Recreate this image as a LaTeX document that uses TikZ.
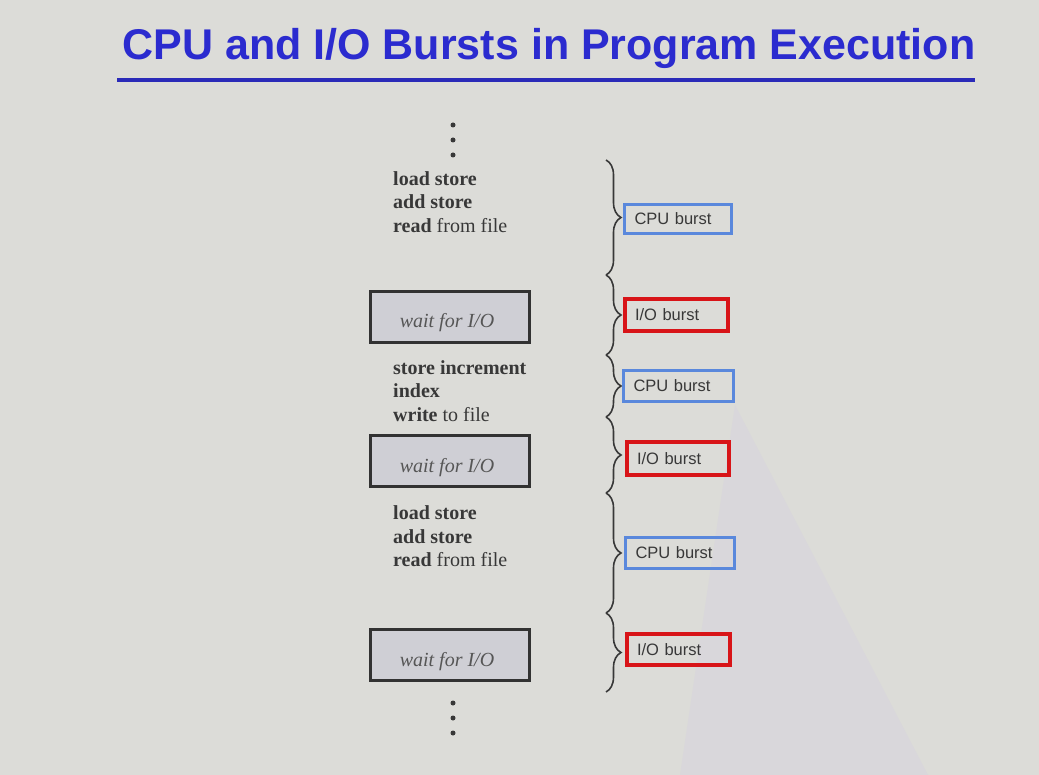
\documentclass[tikz,border=0pt]{standalone}
\usepackage{fontspec}
\setmainfont{Liberation Serif}
\setsansfont{Liberation Sans}
\usetikzlibrary{decorations.pathreplacing}
\definecolor{bg}{HTML}{DCDCD8}
\definecolor{tri}{HTML}{D9D7DB}
\definecolor{titleblue}{HTML}{2B2BCF}
\definecolor{lineblue}{HTML}{2A2AB8}
\definecolor{ink}{HTML}{383838}
\definecolor{waitfill}{HTML}{CFCFD5}
\definecolor{cpublue}{HTML}{5A88DC}
\definecolor{iored}{HTML}{D81418}
\tikzset{
  code/.style={anchor=base west, inner sep=0, text=ink, font=\fontsize{20}{23}\selectfont},
  waitbox/.style={draw=ink!90!black, line width=2.5pt, fill=waitfill, minimum width=159, minimum height=51, inner sep=0},
  waittext/.style={anchor=base, inner sep=0, text=ink!85, font=\itshape\fontsize{20}{23}\selectfont},
  burst/.style={line width=3pt, inner xsep=10, inner ysep=0, align=left, text=ink, font=\sffamily\fontsize{16.5}{18}\selectfont},
  cpubox/.style={burst, draw=cpublue},
  iobox/.style={burst, draw=iored, line width=3.5pt},
  bracestyle/.style={draw=ink, line width=1.6pt, decorate, decoration={brace, amplitude=15, aspect=0.5}},
  dot/.style={circle, fill=ink, inner sep=0, minimum size=5}
}
\begin{document}
\begin{tikzpicture}[x=1pt,y=-1pt]
\useasboundingbox (0,0) rectangle (1039,775);
\fill[bg] (0,0) rectangle (1039,775);
\fill[tri] (735,405) -- (928,775) -- (680,775) -- cycle;

% title
\node[anchor=base, inner sep=0, text=titleblue, font=\sffamily\bfseries\fontsize{43}{50}\selectfont] (title) at (549,60) {CPU and I/O Bursts in Program Execution};
\draw[lineblue, line width=4.5pt] (117,80) -- (975,80);

% dots
\node[dot] (d1) at (453,125) {};
\node[dot] (d2) at (453,140) {};
\node[dot] (d3) at (453,155) {};
\node[dot] (d4) at (453,703) {};
\node[dot] (d5) at (453,718) {};
\node[dot] (d6) at (453,733) {};

% block 1
\node[code] (a1) at (393,186) {\textbf{load store}};
\node[code] (a2) at (393,209) {\textbf{add store}};
\node[code] (a3) at (393,233) {\textbf{read} from file};
% wait 1
\node[waitbox] (w1) at (450,317) {};
\node[waittext] (w1t) at (447,328) {wait for I/O};
% block 2
\node[code] (b1) at (393,375) {\textbf{store increment}};
\node[code] (b2) at (393,398) {\textbf{index}};
\node[code] (b3) at (393,422) {\textbf{write} to file};
% wait 2
\node[waitbox] (w2) at (450,461) {};
\node[waittext] (w2t) at (447,472) {wait for I/O};
% block 3
\node[code] (c1) at (393,519) {\textbf{load store}};
\node[code] (c2) at (393,543) {\textbf{add store}};
\node[code] (c3) at (393,566) {\textbf{read} from file};
% wait 3
\node[waitbox] (w3) at (450,655) {};
\node[waittext] (w3t) at (447,666) {wait for I/O};

% braces
\coordinate (k0) at (606,160);
\coordinate (k1) at (606,275);
\coordinate (k2) at (606,355);
\coordinate (k3) at (606,417);
\coordinate (k4) at (606,493);
\coordinate (k5) at (606,613);
\coordinate (k6) at (606,692);
\draw[bracestyle] (k0) -- (k1);
\draw[bracestyle] (k1) -- (k2);
\draw[bracestyle] (k2) -- (k3);
\draw[bracestyle] (k3) -- (k4);
\draw[bracestyle] (k4) -- (k5);
\draw[bracestyle] (k5) -- (k6);

% bursts
\node[cpubox, text width=87, minimum height=29] (cpu1) at (678,219) {CPU burst};
\node[iobox, text width=83, minimum height=32] (io1) at (676.5,315) {I/O burst};
\node[cpubox, text width=90, minimum height=31] (cpu2) at (678.5,386) {CPU burst};
\node[iobox, text width=82, minimum height=33] (io2) at (678,458.5) {I/O burst};
\node[cpubox, text width=89, minimum height=31] (cpu3) at (680,553) {CPU burst};
\node[iobox, text width=83, minimum height=31] (io3) at (678.5,649.5) {I/O burst};
\end{tikzpicture}
\end{document}
